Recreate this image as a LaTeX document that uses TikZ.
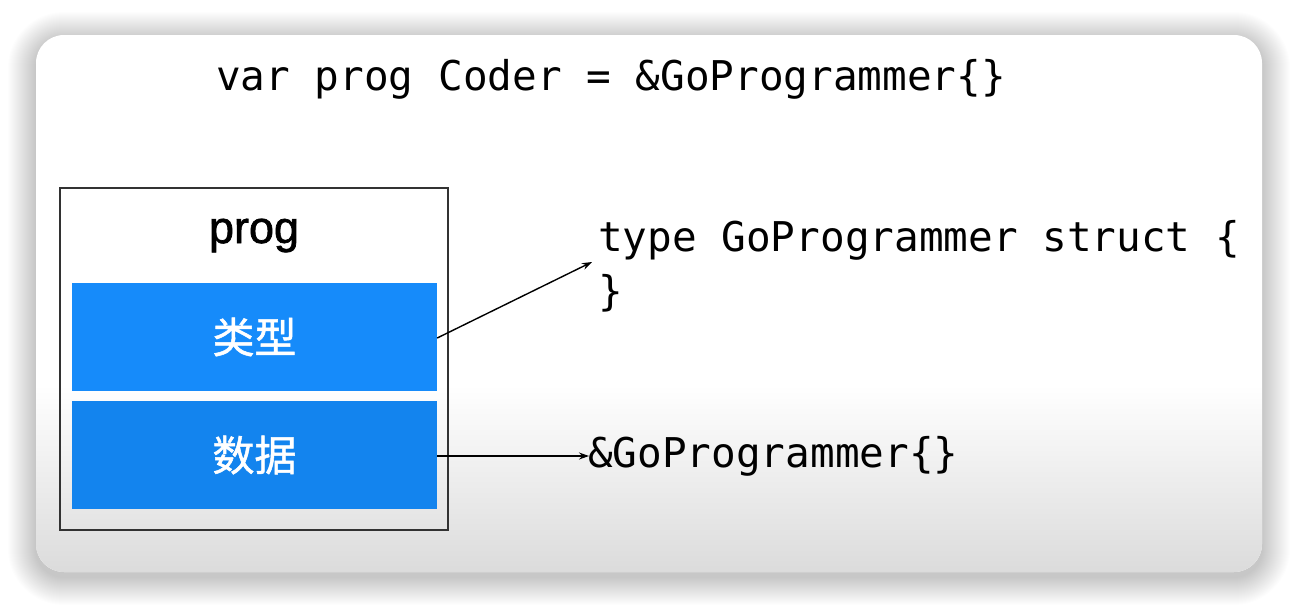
\documentclass[tikz,border=0pt]{standalone}
\usepackage{fontspec}
\setmonofont{DejaVu Sans Mono}
\newfontfamily\progfont[FakeBold=1.6]{Liberation Sans}
\newfontfamily\cjk[FakeBold=1.2]{Noto Sans CJK SC}
\usetikzlibrary{arrows.meta}
\definecolor{blueA}{RGB}{22,139,250}
\definecolor{blueB}{RGB}{19,132,238}
\definecolor{frameC}{RGB}{50,50,50}
\tikzset{
  code/.style={anchor=base west, inner sep=0pt, font=\ttfamily\fontsize{41}{54}\selectfont, text=black},
  cell/.style={draw=none, fill=#1, minimum width=365pt, minimum height=108pt, inner sep=0pt, text=white, font=\cjk\fontsize{42}{42}\selectfont},
  conn/.style={line width=1.4pt, draw=black, -{Stealth[length=10pt,width=7pt]}},
}
\begin{document}
\begin{tikzpicture}[x=1pt,y=-1pt]
\useasboundingbox (0,0) rectangle (1298,608);
\fill[white] (0,0) rectangle (1298,608);
% soft shadow
\foreach \i in {1,...,28}{
  \fill[black, opacity=0.0075, rounded corners={28+\i}] (36-\i,35-\i+5) rectangle (1262+\i,572+\i+5);
}
% card
\fill[white, rounded corners=28] (36,35) rectangle (1262,572);
\begin{scope}
  \clip[rounded corners=28] (36,35) rectangle (1262,572);
  \shade[top color=white, bottom color=black!14] (36,385) rectangle (1262,572);
\end{scope}
% top code line
\node[code] (decl) at (216,90) {var prog Coder = \&GoProgrammer\{\}};
% struct
\node[code] (ty) at (598,251) {type GoProgrammer struct \{};
\node[code] (cl) at (598,305) {\}};
\node[code] (val) at (588,467) {\&GoProgrammer\{\}};
% iface box
\node[draw=frameC, line width=1.6pt, minimum width=388pt, minimum height=342pt, inner sep=0pt] (prog) at (254,359) {};
\node[inner sep=0pt, anchor=base, font=\progfont\fontsize{45}{45}\selectfont] (pl) at (254,243) {prog};
\node[cell=blueA] (typ) at (254.5,337) {类型};
\node[cell=blueB] (dat) at (254.5,455) {数据};
% arrows
\coordinate (tipA) at (592,262);
\coordinate (tipB) at (589,456);
\draw[conn] (typ.east) ++(0,1) coordinate (sA) -- (tipA);
\draw[conn] (dat.east) ++(0,1) coordinate (sB) -- (tipB);
\end{tikzpicture}
\end{document}
